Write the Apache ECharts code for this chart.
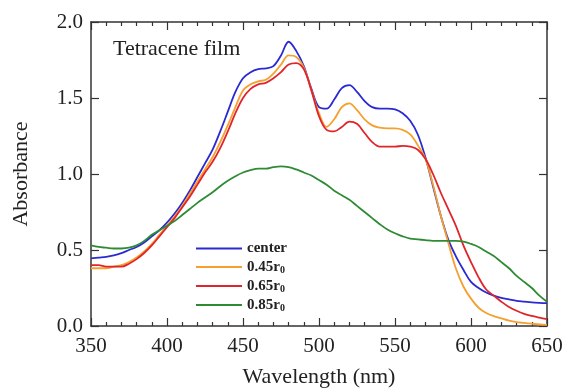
<!DOCTYPE html>
<html>
<head>
<meta charset="utf-8">
<script src="https://cdn.jsdelivr.net/npm/echarts@6/dist/echarts.min.js"></script>
<style>html,body{margin:0;padding:0;background:#fff;}#c{width:566px;height:392px;}</style>
</head>
<body>
<div id="c"></div>
<script>
// Wavelength grid (nm), 5 nm steps
const wavelengths = [350,355,360,365,370,375,380,385,390,395,400,405,410,415,420,425,430,435,440,445,450,455,460,465,470,475,480,485,490,495,500,505,510,515,520,525,530,535,540,545,550,555,560,565,570,575,580,585,590,595,600,605,610,615,620,625,630,635,640,645,650];

const center = [0.445,0.45,0.455,0.465,0.48,0.50,0.52,0.55,0.59,0.63,0.68,0.74,0.81,0.89,0.98,1.07,1.16,1.28,1.41,1.54,1.63,1.67,1.69,1.695,1.71,1.78,1.87,1.81,1.71,1.56,1.44,1.43,1.49,1.565,1.585,1.54,1.48,1.44,1.43,1.43,1.425,1.40,1.35,1.26,1.11,0.92,0.73,0.57,0.46,0.37,0.29,0.25,0.22,0.20,0.185,0.175,0.165,0.16,0.155,0.152,0.15];

const r045 = [0.38,0.38,0.38,0.39,0.40,0.42,0.45,0.49,0.54,0.60,0.66,0.72,0.79,0.87,0.95,1.03,1.11,1.21,1.32,1.44,1.55,1.59,1.61,1.62,1.66,1.72,1.78,1.77,1.70,1.55,1.40,1.31,1.36,1.44,1.465,1.42,1.36,1.32,1.305,1.30,1.30,1.29,1.26,1.19,1.10,0.93,0.73,0.55,0.38,0.26,0.18,0.12,0.085,0.065,0.05,0.035,0.025,0.02,0.015,0.01,0.008];

const r065 = [0.40,0.40,0.39,0.39,0.39,0.41,0.44,0.48,0.53,0.59,0.65,0.71,0.78,0.85,0.93,1.01,1.08,1.17,1.28,1.40,1.50,1.56,1.59,1.60,1.63,1.67,1.72,1.73,1.69,1.55,1.38,1.29,1.28,1.31,1.345,1.33,1.27,1.21,1.18,1.18,1.18,1.185,1.18,1.16,1.10,1.00,0.88,0.77,0.66,0.53,0.42,0.32,0.24,0.20,0.16,0.125,0.10,0.08,0.066,0.055,0.045];

const r085 = [0.53,0.52,0.515,0.51,0.51,0.515,0.53,0.56,0.60,0.63,0.66,0.69,0.73,0.77,0.81,0.845,0.88,0.92,0.955,0.985,1.01,1.025,1.035,1.035,1.045,1.05,1.045,1.03,1.01,0.99,0.96,0.93,0.89,0.86,0.83,0.79,0.75,0.71,0.67,0.635,0.61,0.59,0.575,0.57,0.565,0.56,0.56,0.56,0.56,0.555,0.54,0.52,0.49,0.46,0.42,0.38,0.33,0.29,0.25,0.20,0.16];

const seriesNames = ['center','0.45r0','0.65r0','0.85r0'];
const seriesColors = ['#2a2ad2','#f5a030','#e0252a','#2e8b34'];
const seriesValues = [center, r045, r065, r085];

const xTicks = [350,400,450,500,550,600,650];
const yTicks = [0.0,0.5,1.0,1.5,2.0];

const FONT = "'Liberation Serif','Times New Roman',serif";
const AXC = '#333';

const chart = echarts.init(document.getElementById('c'), null, {renderer:'canvas'});

const baseX = {
  type:'value', min:xTicks[0], max:xTicks[xTicks.length-1], interval:50,
  axisLine:{show:true, onZero:false, lineStyle:{color:AXC, width:1.5}},
  axisTick:{show:true, inside:true, length:8, lineStyle:{color:AXC, width:1.2}},
  minorTick:{show:true, splitNumber:5, length:4, lineStyle:{color:AXC, width:1.2}},
  splitLine:{show:false}
};
const baseY = {
  type:'value', min:yTicks[0], max:yTicks[yTicks.length-1], interval:0.5,
  axisLine:{show:true, onZero:false, lineStyle:{color:AXC, width:1.5}},
  axisTick:{show:true, inside:true, length:8, lineStyle:{color:AXC, width:1.2}},
  splitLine:{show:false}
};

chart.setOption({
  animation:false,
  backgroundColor:'#fff',
  grid:{left:91, right:19, top:22, bottom:66, containLabel:false, outerBoundsMode:'none'},
  title:{text:'Tetracene film', left:108, top:33,
    textStyle:{fontFamily:FONT, fontSize:22, fontWeight:'normal', color:'#222'}},
  legend:{
    orient:'vertical', left:191, top:236, itemWidth:46, itemHeight:2, itemGap:1,
    icon:'rect',
    data:seriesNames,
    formatter:function(n){ return n==='center' ? '{m|center}' : '{m|'+n.slice(0,-1)+'}{s|0}'; },
    textStyle:{fontFamily:FONT, fontSize:14, color:'#222',
      rich:{
        m:{fontFamily:FONT, fontSize:15, fontWeight:'bold', color:'#222', lineHeight:16, verticalAlign:'middle'},
        s:{fontFamily:FONT, fontSize:10, fontWeight:'bold', color:'#222', lineHeight:16, verticalAlign:'bottom', padding:[8,0,0,0]}
      }}
  },
  xAxis:[
    Object.assign({}, baseX, {position:'bottom',
      name:'Wavelength (nm)', nameLocation:'middle', nameGap:40,
      nameTextStyle:{fontFamily:FONT, fontSize:22, color:'#222'},
      axisLabel:{show:true, margin:10, fontFamily:FONT, fontSize:21, color:'#222'}}),
    Object.assign({}, baseX, {position:'top', axisLabel:{show:false}})
  ],
  yAxis:[
    Object.assign({}, baseY, {position:'left',
      name:'Absorbance', nameLocation:'middle', nameGap:59,
      nameTextStyle:{fontFamily:FONT, fontSize:22, color:'#222'},
      axisLabel:{show:true, margin:8, fontFamily:FONT, fontSize:21, color:'#222',
        formatter:function(v){return v.toFixed(1);}}}),
    Object.assign({}, baseY, {position:'right', axisLabel:{show:false}})
  ],
  series: seriesNames.map(function(n,i){
    return {
      name:n, type:'line', xAxisIndex:0, yAxisIndex:0,
      data: wavelengths.map(function(w,k){return [w, seriesValues[i][k]];}),
      smooth:0.35, showSymbol:false, symbol:'none',
      lineStyle:{color:seriesColors[i], width:1.8},
      itemStyle:{color:seriesColors[i]}
    };
  })
});
</script>
</body>
</html>
